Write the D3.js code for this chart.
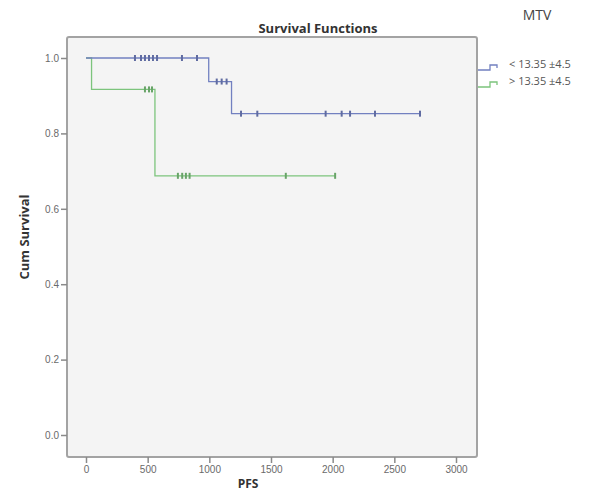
<!DOCTYPE html>
<html>
<head>
<meta charset="utf-8">
<script src="https://cdn.jsdelivr.net/npm/d3@7"></script>
<style>
  html, body { margin: 0; padding: 0; background: #fff; }
  svg { display: block; font-family: "Open Sans", "DejaVu Sans", sans-serif; }
</style>
</head>
<body>
<svg id="chart" width="599" height="494"></svg>
<script>
// Kaplan-Meier survival by MTV group
const groups = ["< 13.35 ±4.5", "> 13.35 ±4.5"];
const groupColors = ["#7280c0", "#7cc47c"];

// group 1: event times and survival after each event
const lowEventTimes = [0, 995, 1180];
const lowSurvival = [1.0, 0.9375, 0.8523];
const lowEndTime = 2708;
const lowCensored = [397, 446, 478, 511, 543, 576, 778, 900, 1060, 1100, 1140, 1257, 1389, 1943, 2073, 2141, 2343, 2708];

// group 2
const highEventTimes = [0, 45, 559];
const highSurvival = [1.0, 0.9167, 0.6875];
const highEndTime = 2020;
const highCensored = [478, 511, 535, 745, 780, 810, 840, 1620, 2020];

const xTicks = [0, 500, 1000, 1500, 2000, 2500, 3000];
const yTicks = [0.0, 0.2, 0.4, 0.6, 0.8, 1.0];

const series = [
  { name: groups[0], color: groupColors[0], times: lowEventTimes, surv: lowSurvival, end: lowEndTime, censored: lowCensored },
  { name: groups[1], color: groupColors[1], times: highEventTimes, surv: highSurvival, end: highEndTime, censored: highCensored }
];

const svg = d3.select("#chart");
const frame = { left: 67, right: 477, top: 37, bottom: 457 };

const x = d3.scaleLinear().domain([0, 3000]).range([86, 456]);
const y = d3.scaleLinear().domain([0, 1]).range([435, 58]);

// plot frame
svg.append("rect")
  .attr("x", frame.left).attr("y", frame.top)
  .attr("width", frame.right - frame.left).attr("height", frame.bottom - frame.top)
  .attr("rx", 2)
  .attr("fill", "#f4f4f4")
  .attr("stroke", "#a3a3a3").attr("stroke-width", 2);

// axes
const yAxis = svg.append("g")
  .attr("transform", `translate(${frame.left},0)`)
  .call(d3.axisLeft(y).tickValues(yTicks).tickFormat(d3.format(".1f")).tickSize(6).tickPadding(2));
const xAxis = svg.append("g")
  .attr("transform", `translate(0,${frame.bottom})`)
  .call(d3.axisBottom(x).tickValues(xTicks).tickFormat(d3.format("d")).tickSize(6).tickPadding(3));

[yAxis, xAxis].forEach(g => {
  g.select(".domain").remove();
  g.selectAll(".tick line").attr("stroke", "#8a8a8a").attr("stroke-width", 1.5);
  g.selectAll(".tick text").attr("fill", "#6a6a6a").style("font-size", "10px");
});

// survival step curves
const stepLine = d3.line()
  .x(d => x(d[0]))
  .y(d => y(d[1]))
  .curve(d3.curveStepAfter);

function survivalAt(s, t) {
  let v = s.surv[0];
  s.times.forEach((tt, i) => { if (tt <= t) v = s.surv[i]; });
  return v;
}

// draw group 2 first so group 1 sits on top at the shared start
[series[1], series[0]].forEach(s => {
  const pts = s.times.map((t, i) => [t, s.surv[i]]);
  pts.push([s.end, s.surv[s.surv.length - 1]]);
  svg.append("path")
    .datum(pts)
    .attr("fill", "none")
    .attr("stroke", s.color)
    .attr("stroke-width", 1.3)
    .attr("d", stepLine);

  svg.append("g").selectAll("line")
    .data(s.censored)
    .join("line")
    .attr("x1", d => x(d)).attr("x2", d => x(d))
    .attr("y1", d => y(survivalAt(s, d)) - 3)
    .attr("y2", d => y(survivalAt(s, d)) + 3)
    .attr("stroke", d3.color(s.color).darker(0.5))
    .attr("stroke-width", 2);
});

// titles
svg.append("text")
  .attr("x", 318).attr("y", 33)
  .attr("text-anchor", "middle")
  .attr("fill", "#333").style("font-size", "13px").style("font-weight", "bold")
  .text("Survival Functions");

svg.append("text")
  .attr("transform", "translate(29,237) rotate(-90)")
  .attr("text-anchor", "middle")
  .attr("fill", "#333").style("font-size", "13px").style("font-weight", "bold")
  .text("Cum Survival");

svg.append("text")
  .attr("x", 248).attr("y", 488)
  .attr("text-anchor", "middle")
  .attr("fill", "#333").style("font-size", "12px").style("font-weight", "bold")
  .text("PFS");

// legend
svg.append("text")
  .attr("x", 537).attr("y", 20)
  .attr("text-anchor", "middle")
  .attr("fill", "#444").style("font-size", "14px")
  .text("MTV");

series.forEach((s, i) => {
  const cy = 64 + i * 17;
  svg.append("path")
    .attr("d", `M478,${cy + 6} H490 V${cy + 1} H497 V${cy + 4}`)
    .attr("fill", "none").attr("stroke", s.color).attr("stroke-width", 1.3);
  svg.append("text")
    .attr("x", 509).attr("y", cy)
    .attr("dy", "0.35em")
    .attr("fill", "#555").style("font-size", "11px")
    .text(s.name);
});
</script>
</body>
</html>
